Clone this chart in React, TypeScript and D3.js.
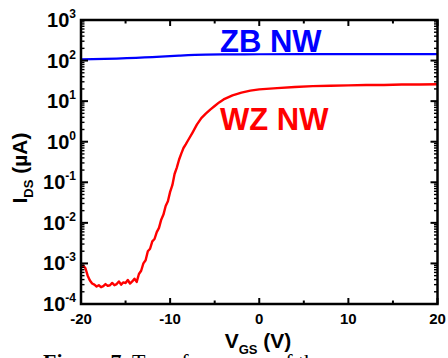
import React from 'react';
import * as d3 from 'd3';

// WZ NW transfer curve (V_GS in V, I_DS in µA)
const vgsRed = [
  -20, -19.75, -19.5, -19.25, -19, -18.75, -18.5, -18.25, -18, -17.75,
  -17.5, -17.25, -17, -16.75, -16.5, -16.25, -16, -15.75, -15.5, -15.25,
  -15, -14.75, -14.5, -14.25, -14, -13.75, -13.5, -13.25, -13, -12.75,
  -12.5, -12.25, -12, -11.75, -11.5, -11.25, -11, -10.75, -10.5, -10.25,
  -10, -9.75, -9.5, -9.25, -9, -8.75, -8.5, -8.25, -8,
  -7.5, -7, -6.5, -6, -5.5, -5, -4.5, -4, -3, -2, -1, 0,
  2, 4, 6, 8, 10, 12, 14, 16, 18, 20,
];
const idsRed = [
  8.3e-4, 8.9e-4, 7.6e-4, 5.0e-4, 3.8e-4, 3.2e-4, 3.0e-4, 2.7e-4, 2.9e-4, 2.6e-4,
  2.75e-4, 3.1e-4, 2.8e-4, 2.9e-4, 3.3e-4, 2.9e-4, 3.1e-4, 3.6e-4, 3.0e-4, 3.4e-4,
  3.3e-4, 3.9e-4, 3.2e-4, 3.6e-4, 4.2e-4, 3.5e-4, 5.5e-4, 6.6e-4, 1.0e-3, 1.2e-3,
  2.0e-3, 2.3e-3, 3.5e-3, 4.0e-3, 5.9e-3, 7.5e-3, 1.2e-2, 1.6e-2, 2.6e-2, 3.4e-2,
  5.8e-2, 8.5e-2, 0.16, 0.23, 0.36, 0.51, 0.70, 0.86, 1.07,
  1.66, 2.63, 3.8, 4.9, 6.2, 7.6, 9.3, 11.0, 13.8, 16.2, 18.2, 19.5,
  20.9, 22.4, 23.4, 24.0, 24.5, 25.1, 25.1, 25.7, 25.7, 26.0,
];

// ZB NW transfer curve
const vgsBlue = [-20, -16, -12, -9, -6, -3, 0, 10, 20];
const idsBlue = [107, 112, 121, 132, 140, 142, 143, 144, 144];

const xMajorTicks = [-20, -10, 0, 10, 20];
const xMinorTicks = [-15, -5, 5, 15];
const yDecadeExponents = [-4, -3, -2, -1, 0, 1, 2, 3];

const SANS = "Arial, 'Liberation Sans', Helvetica, sans-serif";
const SERIF = "'Times New Roman', 'Liberation Serif', serif";

export default function App() {
  const W = 448;
  const H = 358;
  const left = 81;
  const right = 437.5;
  const top = 20;
  const bottom = 304;

  const x = d3.scaleLinear().domain([-20, 20]).range([left, right]);
  const y = d3.scaleLog().domain([1e-4, 1e3]).range([bottom, top]);

  const line = d3
    .line<[number, number]>()
    .x((d) => x(d[0]))
    .y((d) => y(d[1]));

  const redPts: [number, number][] = vgsRed.map((v, i) => [v, idsRed[i]]);
  const bluePts: [number, number][] = vgsBlue.map((v, i) => [v, idsBlue[i]]);
  const blueLine = d3
    .line<[number, number]>()
    .x((d) => x(d[0]))
    .y((d) => y(d[1]))
    .curve(d3.curveMonotoneX);

  const yAll = y.ticks();
  const decadeVals = yDecadeExponents.map((e) => Math.pow(10, e));
  const isDecade = (v: number) =>
    decadeVals.some((d) => Math.abs(v / d - 1) < 1e-6);
  const yMinor = yAll.filter((v) => !isDecade(v));

  return (
    <svg
      width={W}
      height={H}
      style={{ position: 'absolute', left: 0, top: 0, background: '#fff' }}
    >
      <rect x={0} y={0} width={W} height={H} fill="#fff" />

      {/* curves */}
      <path d={blueLine(bluePts) || ''} fill="none" stroke="#0000ff" strokeWidth={2.2} />
      <path d={line(redPts) || ''} fill="none" stroke="#ff0000" strokeWidth={2.4} strokeLinejoin="round" />

      {/* frame */}
      <rect
        x={left}
        y={top}
        width={right - left}
        height={bottom - top}
        fill="none"
        stroke="#000"
        strokeWidth={2.5}
      />

      {/* y ticks left & right */}
      {decadeVals.map((v, i) => (
        <g key={'yd' + i} stroke="#000" strokeWidth={2}>
          <line x1={left} x2={left + 7} y1={y(v)} y2={y(v)} />
          <line x1={right} x2={right - 7} y1={y(v)} y2={y(v)} />
        </g>
      ))}
      {yMinor.map((v, i) => (
        <g key={'ym' + i} stroke="#000" strokeWidth={1.4}>
          <line x1={left} x2={left + 3.5} y1={y(v)} y2={y(v)} />
          <line x1={right} x2={right - 3.5} y1={y(v)} y2={y(v)} />
        </g>
      ))}

      {/* x ticks bottom & top */}
      {xMajorTicks.map((v, i) => (
        <g key={'xM' + i} stroke="#000" strokeWidth={2}>
          <line x1={x(v)} x2={x(v)} y1={bottom} y2={bottom - 6} />
          <line x1={x(v)} x2={x(v)} y1={top} y2={top + 6} />
        </g>
      ))}
      {xMinorTicks.map((v, i) => (
        <g key={'xm' + i} stroke="#000" strokeWidth={2}>
          <line x1={x(v)} x2={x(v)} y1={bottom} y2={bottom - 3.5} />
          <line x1={x(v)} x2={x(v)} y1={top} y2={top + 3.5} />
        </g>
      ))}

      {/* y tick labels */}
      {yDecadeExponents.map((e, i) => (
        <text
          key={'yl' + i}
          x={76}
          y={y(Math.pow(10, e)) + 7}
          textAnchor="end"
          fontFamily={SANS}
          fontWeight="bold"
          fontSize={20}
          fill="#000"
        >
          10
          <tspan dy={-9} fontSize={12}>
            {e < 0 ? '-' + Math.abs(e) : String(e)}
          </tspan>
        </text>
      ))}

      {/* x tick labels */}
      {xMajorTicks.map((v, i) => (
        <text
          key={'xl' + i}
          x={x(v)}
          y={323.5}
          textAnchor="middle"
          fontFamily={SANS}
          fontWeight="bold"
          fontSize={15}
          fill="#000"
        >
          {String(v)}
        </text>
      ))}

      {/* caption (cut off at the bottom edge, as in the source) */}
      <text x={43} y={369} fontFamily={SERIF} fontSize={22} fill="#000">
        <tspan fontWeight="bold">Figure 7.</tspan> Transfer curves of the
      </text>

      {/* axis titles */}
      <text
        x={258}
        y={348}
        textAnchor="middle"
        fontFamily={SANS}
        fontWeight="bold"
        fontSize={21}
        fill="#000"
      >
        V<tspan dy={6} fontSize={13}>GS</tspan>
        <tspan dy={-6}> (V)</tspan>
      </text>
      <text
        transform="translate(27,168) rotate(-90)"
        textAnchor="middle"
        fontFamily={SANS}
        fontWeight="bold"
        fontSize={21}
        fill="#000"
      >
        I<tspan dy={6} fontSize={13}>DS</tspan>
        <tspan dy={-6}> (µA)</tspan>
      </text>

      {/* series labels */}
      <text x={220} y={52} fontFamily={SANS} fontWeight="bold" fontSize={31} fill="#0000ff">
        ZB NW
      </text>
      <text x={220} y={130} fontFamily={SANS} fontWeight="bold" fontSize={31} fill="#ff0000">
        WZ NW
      </text>
    </svg>
  );
}
